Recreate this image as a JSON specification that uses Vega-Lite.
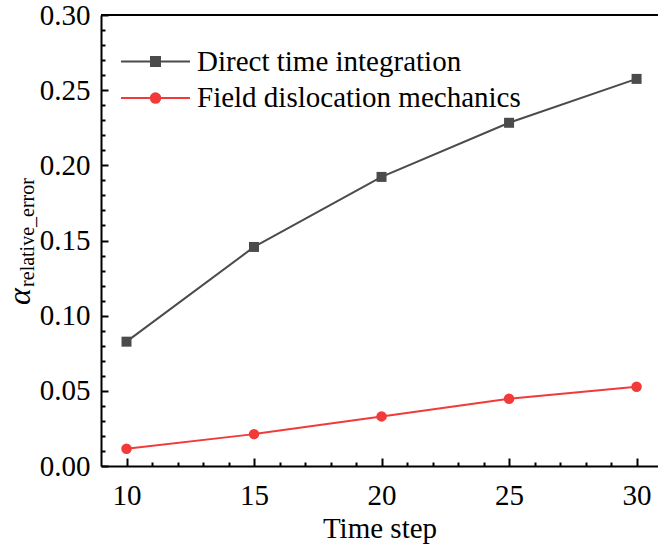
{
  "$schema": "https://vega.github.io/schema/vega-lite/v6.json",
  "autosize": {"type": "none"},
  "padding": {"left": 101, "top": 15, "right": 0, "bottom": 78},
  "width": 557,
  "height": 451,
  "background": "white",
  "config": {
    "view": {"stroke": null},
    "font": "Liberation Serif",
    "text": {"font": "Liberation Serif"},
    "axis": {
      "labelFont": "Liberation Serif",
      "titleFont": "Liberation Serif",
      "labelColor": "black",
      "titleColor": "black",
      "domainColor": "black",
      "tickColor": "black",
      "titleFontWeight": "normal",
      "grid": false,
      "labelFlush": false,
      "labelBound": false,
      "labelOverlap": false
    },
    "legend": {"labelFont": "Liberation Serif"}
  },
  "data": {
    "values": [
      {"step": 10, "value": 0.0827, "series": "Direct time integration"},
      {"step": 15, "value": 0.1457, "series": "Direct time integration"},
      {"step": 20, "value": 0.1923, "series": "Direct time integration"},
      {"step": 25, "value": 0.2283, "series": "Direct time integration"},
      {"step": 30, "value": 0.2575, "series": "Direct time integration"},
      {"step": 10, "value": 0.0115, "series": "Field dislocation mechanics"},
      {"step": 15, "value": 0.0212, "series": "Field dislocation mechanics"},
      {"step": 20, "value": 0.0330, "series": "Field dislocation mechanics"},
      {"step": 25, "value": 0.0447, "series": "Field dislocation mechanics"},
      {"step": 30, "value": 0.0527, "series": "Field dislocation mechanics"}
    ]
  },
  "resolve": {"axis": {"x": "independent", "y": "independent"}, "legend": {"color": "independent"}},
  "layer": [
    {
      "mark": {"type": "line", "strokeWidth": 2},
      "encoding": {
        "x": {
          "field": "step", "type": "quantitative",
          "scale": {"domain": [9, 30.84], "nice": false, "zero": false},
          "axis": {
            "orient": "bottom",
            "values": [10, 15, 20, 25, 30],
            "title": "Time step",
            "titleFont": "Liberation Serif",
            "titleFontSize": 29,
            "titleBaseline": "alphabetic",
            "titleY": 71,
            "labelFont": "Liberation Serif",
            "labelFontSize": 29,
            "labelPadding": 23,
            "tickSize": -8,
            "tickWidth": 2,
            "domainWidth": 2,
            "encode": {"labels": {"update": {"font": {"value": "Liberation Serif"}}}}
          }
        },
        "y": {
          "field": "value", "type": "quantitative",
          "scale": {"domain": [0, 0.3], "nice": false, "zero": true},
          "axis": {
            "orient": "left",
            "values": [0, 0.05, 0.1, 0.15, 0.2, 0.25, 0.3],
            "format": ".2f",
            "title": "α",
            "titleFont": "Liberation Serif",
            "titleFontSize": 32,
            "titleFontStyle": "italic",
            "titleAngle": -90,
            "titleAlign": "center",
            "titleBaseline": "alphabetic",
            "titleX": -72,
            "titleY": 281,
            "labelFont": "Liberation Serif",
            "labelFontSize": 29,
            "labelPadding": 18,
            "tickSize": -7,
            "tickWidth": 2,
            "domainWidth": 2,
            "encode": {"labels": {"update": {"font": {"value": "Liberation Serif"}}}}
          }
        },
        "color": {
          "field": "series", "type": "nominal",
          "scale": {
            "domain": ["Direct time integration", "Field dislocation mechanics"],
            "range": ["#4b4b4b", "#f23a3a"]
          },
          "legend": {
            "title": null,
            "orient": "none",
            "legendX": 40,
            "legendY": 32,
            "padding": 0,
            "labelFont": "Liberation Serif",
            "labelFontSize": 29,
            "labelColor": "black",
            "labelLimit": 0,
            "labelOffset": 27,
            "rowPadding": 6.6,
            "symbolSize": 100,
            "symbolStrokeWidth": 2,
            "encode": {
              "symbols": {
                "update": {
                  "shape": {"signal": "datum.value === 'Direct time integration' ? 'M-6.9,0H6.9M-0.9,-0.9H0.9V0.9H-0.9Z' : 'M-6.9,0H6.9M0.95,0A0.95,0.95 0 1,1 -0.95,0A0.95,0.95 0 1,1 0.95,0Z'"},
                  "fill": {"scale": "color", "field": "value"},
                  "stroke": {"scale": "color", "field": "value"},
                  "strokeWidth": {"value": 2},
                  "opacity": {"value": 1}
                }
              },
              "labels": {
                "update": {
                  "font": {"value": "Liberation Serif"}
                }
              }
            }
          }
        }
      }
    },
    {
      "mark": {"type": "point", "filled": true, "opacity": 1},
      "encoding": {
        "x": {
          "field": "step", "type": "quantitative",
          "axis": {
            "orient": "bottom",
            "values": [11, 12, 13, 14, 16, 17, 18, 19, 21, 22, 23, 24, 26, 27, 28, 29],
            "labels": false,
            "domain": false,
            "title": null,
            "tickSize": -4,
            "tickWidth": 2
          }
        },
        "y": {
          "field": "value", "type": "quantitative",
          "axis": {
            "orient": "left",
            "values": [0.01, 0.02, 0.03, 0.04, 0.06, 0.07, 0.08, 0.09, 0.11, 0.12, 0.13, 0.14, 0.16, 0.17, 0.18, 0.19, 0.21, 0.22, 0.23, 0.24, 0.26, 0.27, 0.28, 0.29],
            "labels": false,
            "domain": false,
            "title": "relative_error",
            "titleFont": "Liberation Serif",
            "titleFontSize": 20,
            "titleFontStyle": "normal",
            "titleAngle": -90,
            "titleAlign": "center",
            "titleBaseline": "alphabetic",
            "titleX": -68,
            "titleY": 217,
            "tickSize": -4,
            "tickWidth": 2
          }
        },
        "color": {"field": "series", "type": "nominal", "legend": null},
        "shape": {
          "field": "series", "type": "nominal",
          "scale": {"domain": ["Direct time integration", "Field dislocation mechanics"], "range": ["square", "circle"]},
          "legend": null
        },
        "size": {
          "field": "series", "type": "nominal",
          "scale": {"domain": ["Direct time integration", "Field dislocation mechanics"], "range": [100, 110]},
          "legend": null
        }
      }
    },
    {
      "mark": {"type": "rule", "color": "black", "strokeWidth": 2},
      "encoding": {
        "y": {"datum": 0.3, "type": "quantitative", "axis": null}
      }
    }
  ]
}
